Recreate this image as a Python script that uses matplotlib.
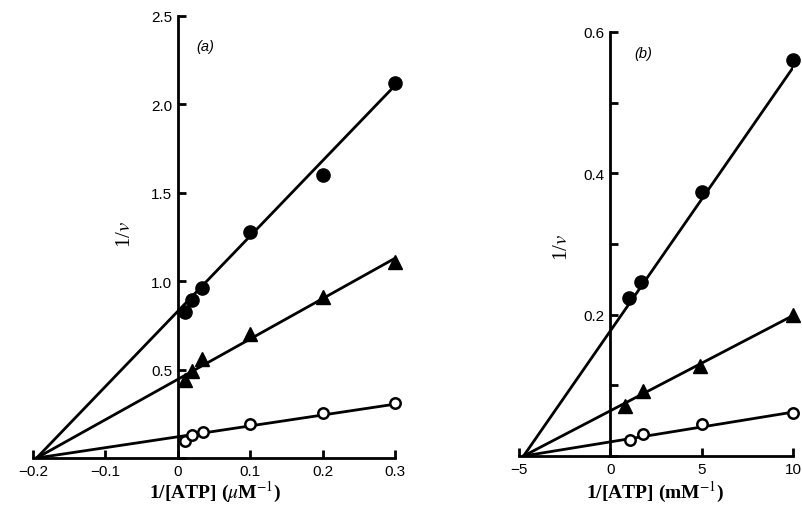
import matplotlib.pyplot as plt
import numpy as np

# panel (a): 1/[ATP] in uM^-1
xa = [0.01, 0.02, 0.033, 0.1, 0.2, 0.3]
a_filled = [0.825, 0.895, 0.96, 1.28, 1.60, 2.12]
a_tri = [0.44, 0.49, 0.56, 0.70, 0.91, 1.11]
xa_open = [0.01, 0.02, 0.035, 0.1, 0.2, 0.3]
a_open = [0.096, 0.13, 0.145, 0.19, 0.255, 0.31]
# fitted lines: y-intercepts, all meeting on the x axis
a_xcross = -0.195
a_icepts = [0.83, 0.445, 0.12]

# panel (b): 1/[ATP] in mM^-1
xb = [1.0, 1.7, 5.0, 10.0]
b_filled = [0.224, 0.246, 0.374, 0.56]
xb_tri = [0.8, 1.8, 4.9, 10.0]
b_tri = [0.071, 0.092, 0.127, 0.20]
xb_open = [1.1, 1.8, 5.0, 10.0]
b_open = [0.023, 0.031, 0.045, 0.061]
b_xcross = -4.75
b_icepts = [0.177, 0.064, 0.02]

sans = 'Liberation Sans'
serif = 'Liberation Serif'
plt.rcParams['mathtext.fontset'] = 'stix'

fig = plt.figure(figsize=(8.02, 5.06), dpi=100)
axa = fig.add_axes([33/802, 1-459/506, 362/802, 442/506])
axb = fig.add_axes([519/802, 1-457/506, 274/802, 424/506])


def style(ax):
    ax.spines['right'].set_visible(False)
    ax.spines['top'].set_visible(False)
    ax.spines['left'].set_position(('data', 0))
    for s in ('left', 'bottom'):
        ax.spines[s].set_linewidth(2)
    ax.tick_params(direction='in', width=2, length=6, labelsize=11, pad=4)
    for lab in ax.get_xticklabels() + ax.get_yticklabels():
        lab.set_family(sans)


def lines(ax, xcross, icepts, xend):
    for b in icepts:
        m = b / (-xcross)
        ax.plot([xcross, xend], [0, b + m*xend], color='black', lw=2, zorder=2)


# (a)
lines(axa, a_xcross, a_icepts, 0.3)
axa.plot(xa, a_filled, 'o', color='black', ms=9.5, zorder=3, clip_on=False)
axa.plot(xa, a_tri, '^', color='black', ms=9.5, zorder=3, clip_on=False)
axa.plot(xa_open, a_open, 'o', mfc='white', mec='black', mew=1.8, ms=7.5,
         zorder=3, clip_on=False)
axa.set_xlim(-0.2, 0.3)
axa.set_ylim(0, 2.5)
axa.set_xticks([-0.2, -0.1, 0, 0.1, 0.2, 0.3])
axa.set_xticklabels(['\u22120.2', '\u22120.1', '0', '0.1', '0.2', '0.3'])
axa.set_yticks([0, 0.5, 1.0, 1.5, 2.0, 2.5])
axa.set_yticklabels(['', '0.5', '1.0', '1.5', '2.0', '2.5'])
style(axa)
axa.text(0.025, 2.33, '(a)', fontsize=10.5, family=sans, style='italic',
         ha='left', va='center')
axa.text(-0.072, 1.27, '1/$v$', fontsize=15, family=serif,
         rotation=90, ha='center', va='center')
fig.text(215/802, 1-492/506, '1/[ATP] ($\\mu$M$^{-1}$)', fontsize=14,
         family=serif, fontweight='bold', ha='center', va='center')

# (b)
lines(axb, b_xcross, b_icepts, 10)
axb.plot(xb, b_filled, 'o', color='black', ms=9.5, zorder=3, clip_on=False)
axb.plot(xb_tri, b_tri, '^', color='black', ms=9.5, zorder=3, clip_on=False)
axb.plot(xb_open, b_open, 'o', mfc='white', mec='black', mew=1.8, ms=7.5,
         zorder=3, clip_on=False)
axb.set_xlim(-5, 10)
axb.set_ylim(0, 0.6)
axb.set_xticks([-5, 0, 5, 10])
axb.set_xticklabels(['\u22125', '0', '5', '10'])
axb.set_yticks([0, 0.1, 0.2, 0.3, 0.4, 0.5, 0.6])
axb.set_yticklabels(['', '', '0.2', '', '0.4', '', '0.6'])
style(axb)
axb.text(1.8, 0.57, '(b)', fontsize=10.5, family=sans, style='italic',
         ha='center', va='center')
axb.text(-2.6, 0.296, '1/$v$', fontsize=15, family=serif,
         rotation=90, ha='center', va='center')
fig.text(655/802, 1-492/506, '1/[ATP] (mM$^{-1}$)', fontsize=14,
         family=serif, fontweight='bold', ha='center', va='center')

fig.savefig('out.png', dpi=100)
